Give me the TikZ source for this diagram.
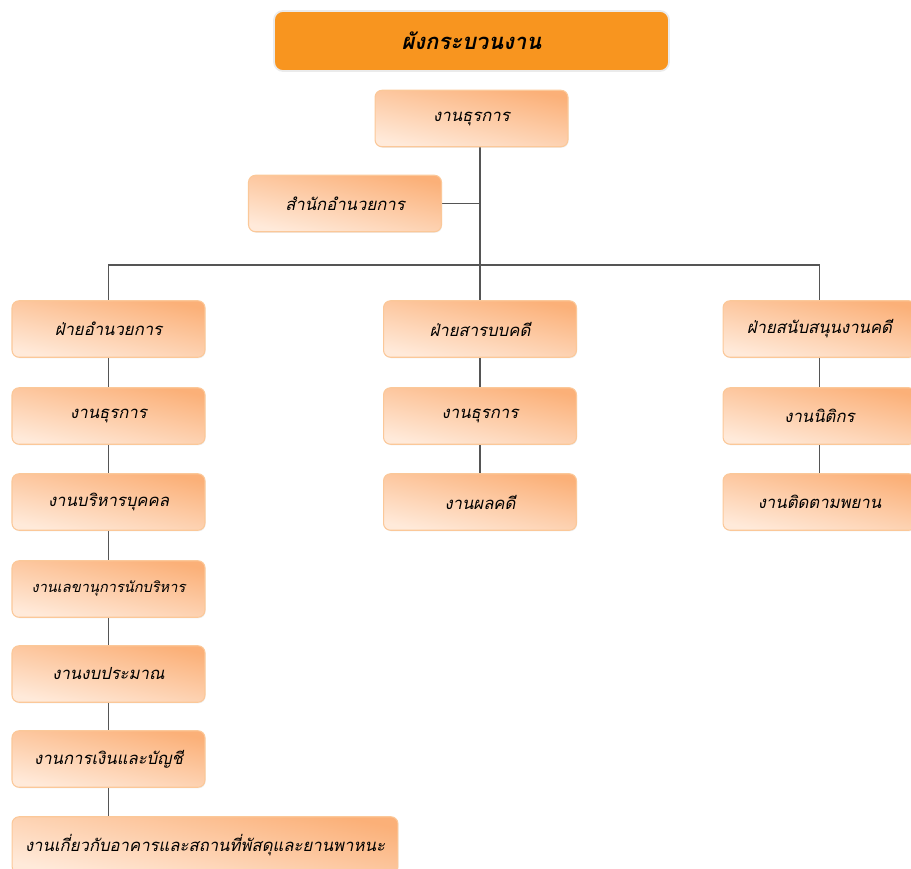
\documentclass[tikz,border=0pt]{standalone}
\usepackage{fontspec}
\newfontfamily\thaifont[Script=Thai]{Loma}
\usepackage{tikz}
\usetikzlibrary{shadows}
\pgfdeclarelayer{background}
\pgfsetlayers{background,main}
\definecolor{titleorange}{HTML}{F8951F}
\definecolor{boxtop}{HTML}{FBB078}
\definecolor{boxbottom}{HTML}{FFEADA}
\definecolor{boxline}{HTML}{FBC899}
\definecolor{linkgray}{HTML}{555555}
\tikzstyle{box} = [rectangle, rounded corners=4pt, draw=boxline, line width=0.6pt,
  top color=boxtop, bottom color=boxbottom, shading angle=-12,
  drop shadow={opacity=0.12, shadow xshift=0.4pt, shadow yshift=-0.6pt},
  minimum width=3.86cm, minimum height=1.13cm, inner sep=1pt,
  font=\thaifont\itshape\fontsize{9.5}{11}\selectfont]
\tikzstyle{titlebox} = [rectangle, rounded corners=5pt, draw=black!8, line width=1pt,
  fill=titleorange, minimum width=7.9cm, minimum height=1.2cm,
  font=\thaifont\bfseries\itshape\fontsize{12.5}{14}\selectfont]
\tikzstyle{link} = [draw=linkgray, line width=1.1pt]

\begin{document}
\begin{tikzpicture}[x=0.02cm,y=-0.02cm]
\useasboundingbox (0,0) rectangle (911,868);
\node[titlebox] (title) at (471.5,41) {ผังกระบวนงาน};
\node[box] (admin) at (471.5,118.5) {งานธุรการ};
\node[box] (office) at (345,203.5) {สำนักอำนวยการ};
% divisions
\node[box] (divA) at (108.5,329) {ฝ่ายอำนวยการ};
\node[box] (divB) at (480,329) {ฝ่ายสารบบคดี};
\node[box] (divC) at (819.5,329) {ฝ่ายสนับสนุนงานคดี};
\coordinate (bus) at (480,265);
% left column
\node[box] (a1) at (108.5,416) {งานธุรการ};
\node[box] (a2) at (108.5,502) {งานบริหารบุคคล};
\node[box,font=\thaifont\itshape\fontsize{8.3}{10}\selectfont] (a3) at (108.5,589) {งานเลขานุการนักบริหาร};
\node[box] (a4) at (108.5,674) {งานงบประมาณ};
\node[box] (a5) at (108.5,759) {งานการเงินและบัญชี};
\node[box,minimum width=7.72cm] (a6) at (205,845) {งานเกี่ยวกับอาคารและสถานที่พัสดุและยานพาหนะ};
% middle column
\node[box] (b1) at (480,416) {งานธุรการ};
\node[box] (b2) at (480,502) {งานผลคดี};
% right column
\node[box] (c1) at (819.5,416) {งานนิติกร};
\node[box] (c2) at (819.5,502) {งานติดตามพยาน};
% links
\begin{pgfonlayer}{background}
\draw[link] (admin.south -| divB.north) -- (divB.north);
\draw[link] (office.east) -- (office.east -| divB.north);
\draw[link] (divA.north) |- (bus) -| (divC.north);
\foreach \u/\v in {divA/a1,a1/a2,a2/a3,a3/a4,a4/a5,divB/b1,b1/b2,divC/c1,c1/c2}
  \draw[link] (\u.south) -- (\v.north);
\draw[link] (a5.south) -- (a5.south |- a6.north);
\end{pgfonlayer}
\end{tikzpicture}
\end{document}
